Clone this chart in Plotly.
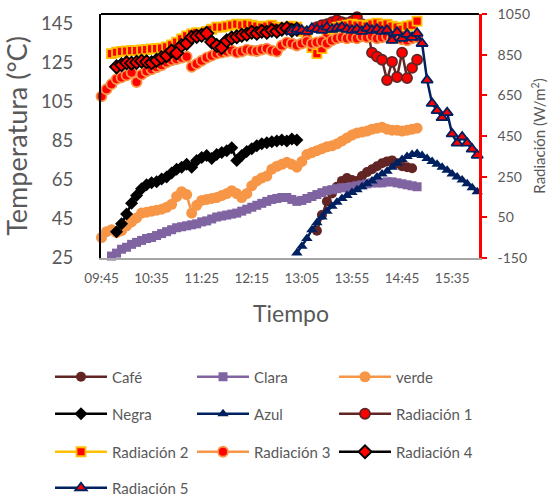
import plotly.graph_objects as go

# Sampling times (every 5 minutes)
TIMES = [
    "09:45", "09:50", "09:55", "10:00", "10:05", "10:10", "10:15", "10:20",
    "10:25", "10:30", "10:35", "10:40", "10:45", "10:50", "10:55", "11:00",
    "11:05", "11:10", "11:15", "11:20", "11:25", "11:30", "11:35", "11:40",
    "11:45", "11:50", "11:55", "12:00", "12:05", "12:10", "12:15", "12:20",
    "12:25", "12:30", "12:35", "12:40", "12:45", "12:50", "12:55", "13:00",
    "13:05", "13:10", "13:15", "13:20", "13:25", "13:30", "13:35", "13:40",
    "13:45", "13:50", "13:55", "14:00", "14:05", "14:10", "14:15", "14:20",
    "14:25", "14:30", "14:35", "14:40", "14:45", "14:50", "14:55", "15:00",
    "15:05", "15:10", "15:15", "15:20", "15:25", "15:30", "15:35", "15:40",
    "15:45", "15:50", "15:55", "16:00",
]
TICK_LABELS = ["09:45", "10:35", "11:25", "12:15", "13:05", "13:55", "14:45", "15:35"]
TEMP_TICKS = [25, 45, 65, 85, 105, 125, 145]
RAD_TICKS = [-150, 50, 250, 450, 650, 850, 1050]

# Temperatures (°C)
cafe_start = "13:20"
cafe = [39, 47, 54, 58, 61.5, 64.5, 66, 65, 64.5, 67, 69, 70.5, 72, 73.5, 74.5,
        75, 73.5, 72, 71.5, 71]

clara_start = "09:55"
clara = [26, 27.5, 29.5, 30.5, 32, 33, 34, 35, 35.5, 36.5,
         37.5, 38.5, 39.5, 40.5, 41, 41.5, 42, 42.5, 43.5, 44,
         45, 46, 46.5, 47, 47.5, 48, 49, 50, 51, 52,
         53, 54, 55, 55.5, 56, 56, 55, 54, 54.5, 55.5,
         56.5, 57.5, 58.5, 59.5, 60, 60.5, 61, 61, 61.5, 62,
         62.5, 63, 63.5, 63.5, 63.5, 64, 64, 63.5, 63, 62.5,
         62, 61.5]

verde_start = "09:45"
verde = [35.5, 38.5, 39.5, 38, 39, 41.5, 43.5, 45.5, 48, 48.5,
         49, 49.5, 50, 51, 52.5, 56.5, 59, 57.5, 48, 52,
         54.5, 55, 55.5, 56, 57, 58, 59.5, 58, 56, 58,
         62, 64.5, 66, 67, 70.5, 72, 73, 74, 73, 71.5,
         74.5, 78, 79, 80, 81, 82, 82.5, 83.5, 85, 86.5,
         88, 89, 89.5, 90, 91, 91.5, 92, 91, 90.5, 90.5,
         90, 90.5, 91, 91.5]

negra_start = "10:00"
negra = [38.5, 42.5, 47.5, 53, 57, 60.5, 62.5, 63.5, 64, 65.5,
         66.5, 68.5, 70.5, 71.5, 73, 71.5, 75, 76.5, 77.5, 76,
         78, 79, 80, 81.5, 75, 77.5, 79.5, 81, 82.5, 83.5,
         84, 84.5, 85, 85.5, 85, 86, 85.5]

azul_start = "13:00"
azul = [27.5, 31, 35, 39.5, 43, 46, 49, 51.5, 53.5, 55.5,
        57, 58.5, 60, 61.5, 63, 64.5, 66.5, 68, 69.5, 71.5,
        73.5, 75.5, 77, 78, 78.5, 77.5, 76, 74.5, 73, 71.5,
        70, 68, 66.5, 65, 63, 61, 59]

# Solar radiation (W/m²)
rad1_start = "13:20"
rad1 = [985, 995, 1000, 1010, 1020, 1010, 1005, 1015, 1035, 1000, 990,
        860, 840, 825, 725, 815, 740, 860, 735, 785, 825]

rad2_start = "09:55"
rad2 = [855, 862, 866, 868, 870, 870, 873, 875, 878, 880,
        882, 888, 898, 912, 928, 942, 952, 958, 955, 965,
        975, 985, 985, 990, 995, 1000, 995, 1000, 995, 990,
        985, 990, 995, 985, 980, 985, 990, 985, 965, 935,
        885, 855, 880, 950, 975, 985, 990, 995, 1000, 995,
        995, 990, 1000, 1005, 995, 1000, 990, 985, 975, 990,
        995, 1015]

rad3_start = "09:45"
rad3 = [645, 680, 705, 730, 738, 748, 762, 715, 752, 768,
        778, 788, 798, 812, 822, 828, 835, 840, 790, 805,
        820, 835, 845, 855, 860, 865, 870, 860, 865, 875,
        870, 868, 875, 880, 870, 865, 895, 910, 905, 895,
        905, 915, 905, 910, 915, 905, 920, 930, 935, 930,
        935, 930, 940, 935, 940, 930, 935, 940, 930, 935,
        925, 920, 930, 935]

rad4_start = "10:00"
rad4 = [790, 800, 810, 808, 812, 818, 815, 810, 822, 835,
        845, 868, 858, 895, 905, 935, 940, 945, 955, 912,
        895, 885, 918, 932, 938, 945, 950, 960, 955, 965,
        960, 970, 965, 975, 980, 970, 975]

rad5_start = "12:55"
rad5 = [965, 975, 970, 965, 980, 975, 970, 985, 975, 980,
        985, 975, 970, 975, 965, 980, 970, 975, 965, 970,
        920, 960, 930, 950, 935, 955, 905, 725, 610, 575,
        540, 565, 460, 415, 445, 415, 385, 355]


def to_min(s):
    h, m = s.split(":")
    return int(h) * 60 + int(m)


def times_for(start, values):
    i = TIMES.index(start)
    return [to_min(t) for t in TIMES[i:i + len(values)]]


GREY = "#595959"
FONT = "Lato"
RED = "#FF0000"

fig = go.Figure()


def temp_trace(name, start, values, color, symbol, size, legend):
    fig.add_trace(go.Scatter(
        x=times_for(start, values), y=values, name=name, mode="lines+markers",
        line=dict(color=color, width=2.5),
        marker=dict(symbol=symbol, size=size, color=color, line=dict(width=0)),
        cliponaxis=False, legend=legend,
    ))


def rad_trace(name, start, values, color, symbol, size, legend):
    fig.add_trace(go.Scatter(
        x=times_for(start, values), y=values, name=name, mode="lines+markers",
        yaxis="y2",
        line=dict(color=color, width=2.5),
        marker=dict(symbol=symbol, size=size, color=RED, line=dict(width=1.8, color=color)),
        cliponaxis=False, legend=legend,
    ))


temp_trace("Café", cafe_start, cafe, "#632523", "circle", 10, "legend")
temp_trace("Clara", clara_start, clara, "#8064A2", "square", 9, "legend")
temp_trace("verde", verde_start, verde, "#F79646", "circle", 11, "legend")
temp_trace("Negra", negra_start, negra, "#000000", "diamond", 10, "legend2")
temp_trace("Azul", azul_start, azul, "#002060", "triangle-up", 10, "legend2")
rad_trace("Radiación 1", rad1_start, rad1, "#632523", "circle", 10, "legend2")
rad_trace("Radiación 2", rad2_start, rad2, "#FFC000", "square", 9, "legend3")
rad_trace("Radiación 3", rad3_start, rad3, "#F79646", "circle", 10, "legend3")
rad_trace("Radiación 4", rad4_start, rad4, "#000000", "diamond", 10, "legend3")
rad_trace("Radiación 5", rad5_start, rad5, "#002060", "triangle-up", 10, "legend4")

tick_vals = [to_min(t) for t in TICK_LABELS]

# plot area: x 101..479 px, y 14..258 px
W, H = 551, 497
ML, MR, MT, MB = 101, 72, 14, 239
PW, PH = W - ML - MR, H - MT - MB


def px_x(x):
    return (x - ML) / PW


def px_y(y):
    return (H - MB - y) / PH


legend_common = dict(
    orientation="h", xanchor="left", yanchor="middle",
    entrywidth=75, entrywidthmode="pixels", itemwidth=52,
    font=dict(family=FONT, size=15, color=GREY),
    bgcolor="rgba(0,0,0,0)", borderwidth=0, traceorder="normal",
)
leg_x = px_x(50)

fig.update_layout(
    width=W, height=H,
    margin=dict(l=ML, r=MR, t=MT, b=MB, pad=0, autoexpand=False),
    paper_bgcolor="white", plot_bgcolor="white",
    font=dict(family=FONT, color=GREY),
    showlegend=True,
    legend=dict(legend_common, x=leg_x, y=px_y(377)),
    legend2=dict(legend_common, x=leg_x, y=px_y(414)),
    legend3=dict(legend_common, x=leg_x, y=px_y(452)),
    legend4=dict(legend_common, x=leg_x, y=px_y(488)),
    xaxis=dict(
        range=[584.5, 961.8], tickvals=tick_vals, ticktext=TICK_LABELS,
        showgrid=False, zeroline=False, showline=True, linecolor="#A6A6A6", linewidth=2,
        ticks="", tickfont=dict(family=FONT, size=13.5, color=GREY), ticklabelstandoff=7,
    ),
    yaxis=dict(
        range=[25, 150], tickvals=TEMP_TICKS,
        showgrid=False, zeroline=False, showline=True, linecolor="#000000", linewidth=2,
        ticks="", tickfont=dict(family=FONT, size=18.5, color=GREY), ticklabelstandoff=22,
        title=dict(text="Temperatura (°C)", standoff=6,
                   font=dict(family=FONT, size=27, color=GREY)),
    ),
    yaxis2=dict(
        range=[-150, 1050], tickvals=RAD_TICKS, ticktext=[str(v) for v in RAD_TICKS],
        overlaying="y", side="right", anchor="x",
        showgrid=False, zeroline=False, showline=True, linecolor="#FF0000", linewidth=2.5,
        ticks="outside", ticklen=5, tickwidth=2, tickcolor="#FF0000",
        tickfont=dict(family=FONT, size=14, color=GREY), ticklabelstandoff=8,
        title=dict(text="Radiación (W/m<sup>2</sup>)", standoff=6,
                   font=dict(family=FONT, size=15, color=GREY)),
    ),
    shapes=[dict(type="line", xref="paper", yref="paper", x0=0, x1=1, y0=1, y1=1,
                 line=dict(color="#000000", width=2))],
    annotations=[
        dict(text="Tiempo", xref="paper", yref="paper", x=px_x(291), y=px_y(313),
             xanchor="center", yanchor="middle", showarrow=False,
             font=dict(family=FONT, size=23, color=GREY)),
    ],
)

fig.write_html("out.html")
